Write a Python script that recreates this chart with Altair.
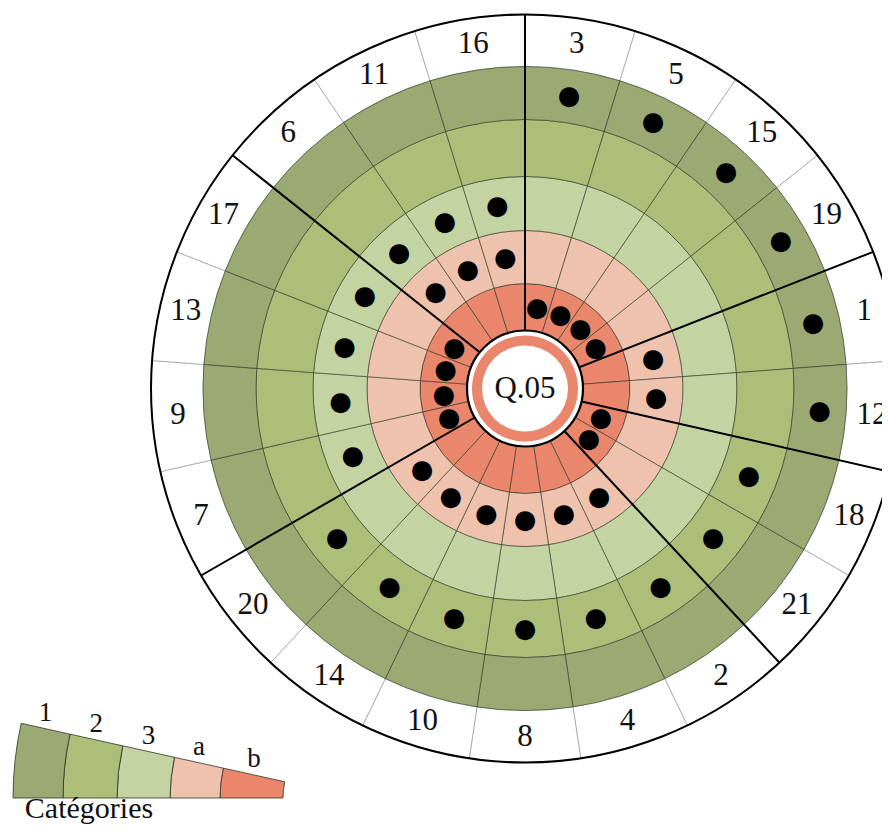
import math
import altair as alt
import pandas as pd

# ---------------- data ----------------
seg_labels = ["3", "5", "15", "19", "1", "12", "18", "21", "2", "4", "8",
              "10", "14", "20", "7", "9", "13", "17", "6", "11", "16"]
green_cat = ["1", "1", "1", "1", "1", "1", "2", "2", "2", "2", "2",
             "2", "2", "2", "3", "3", "3", "3", "3", "3", "3"]
red_cat = ["b", "b", "b", "b", "a", "a", "b", "b", "a", "a", "a",
           "a", "a", "a", "b", "b", "b", "b", "a", "a", "a"]
categories = ["b", "a", "3", "2", "1"]          # inner -> outer
cat_colors = ["#E9866C", "#EFC2AD", "#C3D3A1", "#ACBE78", "#9BAA73"]
center_label = "Q.05"
legend_title = "Catégories"

# ---------------- geometry / styles ----------------
N = len(seg_labels)
W, H = 874, 818
CX, CY = 517, 380.5
ring_px = [58, 105, 158, 212, 269, 322, 374]
LCX, LCY = 350, 790
legend_px = [75, 138, 188, 241, 295, 345]
L_T0, L_T1 = 1.5 * math.pi, 1.5 * math.pi + math.radians(12.5)
SERIF = "Liberation Serif"

theta_scale = alt.Scale(type="linear", domain=[0, N], range=[0, 2 * math.pi], nice=False, zero=False)
radius_scale = alt.Scale(type="linear", domain=list(range(len(ring_px))), range=ring_px, nice=False, zero=False)
legend_rscale = alt.Scale(type="linear", domain=list(range(len(legend_px))), range=legend_px, nice=False, zero=False)
color_scale = alt.Scale(domain=categories, range=cat_colors)

ring_of = {c: i for i, c in enumerate(categories)}

# cells
cells = pd.DataFrame([
    {"t0": i, "t1": i + 1, "r0": k, "r1": k + 1, "cat": c}
    for i in range(N) for k, c in enumerate(categories)
])
label_ring = pd.DataFrame([
    {"t0": i, "t1": i + 1, "r0": len(categories), "r1": len(categories) + 1, "label": seg_labels[i],
     "t": i + 0.5, "r": len(categories) + 0.5}
    for i in range(N)
])
dots = pd.DataFrame(
    [{"t": i + 0.5, "r": ring_of[green_cat[i]] + 0.5} for i in range(N)]
    + [{"t": i + 0.5, "r": ring_of[red_cat[i]] + 0.5} for i in range(N)]
)
combo = list(zip(green_cat, red_cat))
bounds = pd.DataFrame([
    {"t": i, "r0": 0, "r1": len(ring_px) - 1}
    for i in range(N) if combo[i] != combo[i - 1]
])

legend_cells = pd.DataFrame([
    {"r0": k, "r1": k + 1, "rm": k + 0.5, "cat": c} for k, c in enumerate(categories)
])

center = dict(x=alt.value(CX), y=alt.value(CY))

ring_layer = alt.Chart(label_ring).mark_arc(
    fill="white", stroke="#9a9a9a", strokeWidth=0.7
).encode(
    theta=alt.Theta("t0:Q", scale=theta_scale), theta2="t1:Q",
    radius=alt.Radius("r1:Q", scale=radius_scale), radius2="r0:Q", **center
)

cell_layer = alt.Chart(cells).mark_arc(
    stroke="#2e3324", strokeWidth=0.7, strokeOpacity=0.85
).encode(
    theta=alt.Theta("t0:Q", scale=theta_scale), theta2="t1:Q",
    radius=alt.Radius("r1:Q", scale=radius_scale), radius2="r0:Q",
    color=alt.Color("cat:N", scale=color_scale, legend=None), **center
)

disc = alt.Chart(pd.DataFrame({"k": [0]})).mark_arc(
    theta=0, theta2=2 * math.pi, radius=ring_px[0], radius2=0,
    fill="white", stroke="black", strokeWidth=2.2
).encode(**center)

annulus = alt.Chart(pd.DataFrame({"k": [0]})).mark_arc(
    theta=0, theta2=2 * math.pi, radius=53, radius2=43,
    fill=cat_colors[0], strokeWidth=0
).encode(**center)

outer = alt.Chart(pd.DataFrame({"k": [0]})).mark_arc(
    theta=0, theta2=2 * math.pi, radius=ring_px[-1], radius2=0,
    fillOpacity=0, stroke="black", strokeWidth=2
).encode(**center)

bound_layer = alt.Chart(bounds).mark_arc(
    fillOpacity=0, stroke="black", strokeWidth=2
).encode(
    theta=alt.Theta("t:Q", scale=theta_scale), theta2="t:Q",
    radius=alt.Radius("r1:Q", scale=radius_scale), radius2="r0:Q", **center
)

dot_layer = alt.Chart(dots).mark_text(
    text="●", font="DejaVu Sans", fontSize=26, color="black",
    align="center", baseline="middle"
).encode(
    theta=alt.Theta("t:Q", scale=theta_scale),
    radius=alt.Radius("r:Q", scale=radius_scale), **center
)

label_layer = alt.Chart(label_ring).mark_text(
    font=SERIF, fontSize=31, color="#111", align="center", baseline="middle"
).encode(
    theta=alt.Theta("t:Q", scale=theta_scale),
    radius=alt.Radius("r:Q", scale=radius_scale),
    text="label:N", **center
)

q_text = alt.Chart(pd.DataFrame({"k": [0]})).mark_text(
    text=center_label, font=SERIF, fontSize=31, color="#111",
    align="center", baseline="middle"
).encode(**center)

lcenter = dict(x=alt.value(LCX), y=alt.value(LCY))
legend_arcs = alt.Chart(legend_cells).mark_arc(
    theta=L_T0, theta2=L_T1, stroke="#2e3324", strokeWidth=0.8
).encode(
    radius=alt.Radius("r1:Q", scale=legend_rscale), radius2="r0:Q",
    color=alt.Color("cat:N", scale=color_scale, legend=None), **lcenter
)
legend_labels = alt.Chart(legend_cells).mark_text(
    theta=L_T1, dy=-16, font=SERIF, fontSize=27, color="#111",
    align="center", baseline="middle"
).encode(
    radius=alt.Radius("rm:Q", scale=legend_rscale), text="cat:N", **lcenter
)
legend_name = alt.Chart(pd.DataFrame({"k": [0]})).mark_text(
    text=legend_title, font=SERIF, fontSize=30, color="#111",
    align="center", baseline="alphabetic"
).encode(x=alt.value(81), y=alt.value(810))

chart = alt.layer(
    ring_layer, cell_layer, disc, annulus, outer, bound_layer,
    dot_layer, label_layer, q_text, legend_arcs, legend_labels, legend_name
).resolve_scale(
    theta="independent", radius="independent"
).properties(
    width=W, height=H, autosize=alt.AutoSizeParams(type="none"), padding=0
).configure_view(strokeWidth=0)

chart.save("out.html", embed_options={"renderer": "svg", "actions": False})
